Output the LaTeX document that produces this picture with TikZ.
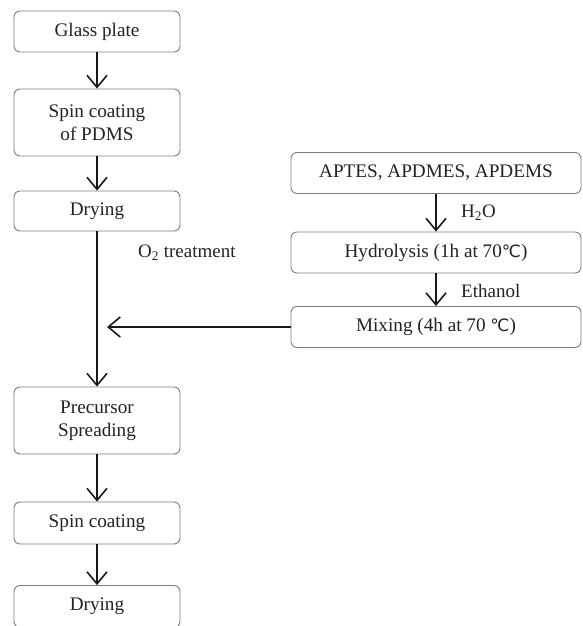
\documentclass[tikz,border=0pt]{standalone}
\usepackage{fontspec}
\setmainfont{Liberation Serif}
\newfontfamily\dejavu{DejaVu Sans}
\usetikzlibrary{arrows.meta}
\definecolor{boxline}{RGB}{125,125,125}
\definecolor{txt}{RGB}{35,35,35}
\definecolor{arr}{RGB}{25,25,25}
\newcommand{\degC}{{\dejavu\fontsize{17}{20}\selectfont ℃}}
\tikzset{
  stepbox/.style={draw=boxline, line width=0.9pt, rounded corners=6pt, inner sep=0pt,
    text=txt, align=center, font=\fontsize{19.2}{23}\selectfont},
  leftbox/.style={stepbox, minimum width=166pt},
  rightbox/.style={stepbox, minimum width=290pt, minimum height=41pt},
  flow/.style={draw=arr, line width=1.6pt, -{Straight Barb[length=12pt,width=20pt,line width=1.6pt]}},
  lbl/.style={text=txt, font=\fontsize{19}{22}\selectfont, inner sep=0pt}
}
\begin{document}
\begin{tikzpicture}[x=1pt,y=-1pt]
\useasboundingbox (0,0) rectangle (583,626);
\fill[white] (0,0) rectangle (583,626);
% left column
\node[leftbox, minimum height=41pt] (glass) at (97,31.5) {Glass plate};
\node[leftbox, minimum height=67pt] (spin) at (97,122.5) {Spin coating\\of PDMS};
\node[leftbox, minimum height=40pt] (dry) at (97,211) {Drying};
\node[leftbox, minimum height=67pt] (prec) at (97,420.5) {Precursor\\Spreading};
\node[leftbox, minimum height=42pt] (spin2) at (97,523) {Spin coating};
\begin{scope}
\clip (0,0) rectangle (583,626);
\node[leftbox, minimum height=42pt] (dry2) at (97,606.5) {Drying};
\end{scope}
% right column
\node[rightbox] (aptes) at (436,173) {APTES, APDMES, APDEMS};
\node[rightbox] (hydro) at (436,252.5) {Hydrolysis (1h at 70\degC)};
\node[rightbox] (mix) at (436,327) {Mixing (4h at 70 \degC)};
% labels
\node[lbl, anchor=west] (o2) at (138,253) {O\textsubscript{2} treatment};
\node[lbl, anchor=west] (h2o) at (461,213) {H\textsubscript{2}O};
\node[lbl, anchor=west] (eth) at (461,291) {Ethanol};
% connectors
\coordinate (join) at (107,327);
\draw[flow] (glass.south) -- (spin.north);
\draw[flow] (spin.south) -- (dry.north);
\draw[flow] (dry.south) -- (prec.north);
\draw[flow] (prec.south) -- (spin2.north);
\draw[flow] (spin2.south) -- (dry2.north);
\draw[flow] (aptes.south) -- (hydro.north);
\draw[flow] (hydro.south) -- (mix.north);
\draw[flow] (mix.west) -- (join);
\end{tikzpicture}
\end{document}
